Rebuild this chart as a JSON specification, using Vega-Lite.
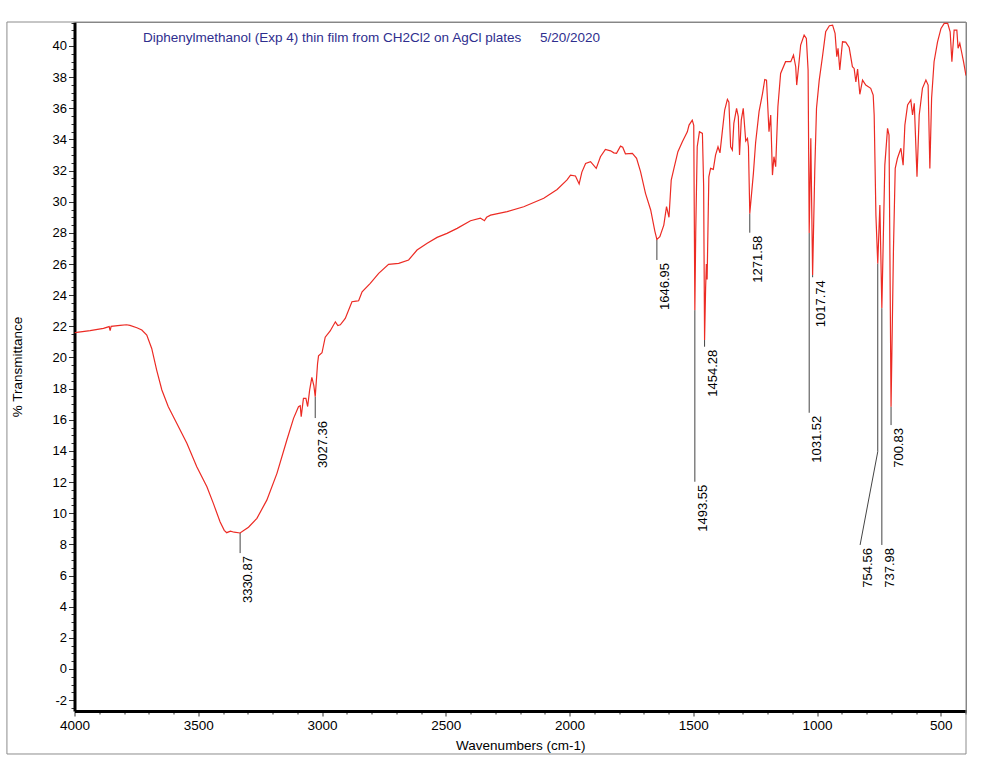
{
  "$schema": "https://vega.github.io/schema/vega-lite/v6.json",
  "width": 891.5,
  "height": 689,
  "autosize": {"type": "none"},
  "padding": {"left": 74.5, "top": 22, "right": 18, "bottom": 53},
  "background": "white",
  "config": {
    "view": {"stroke": "#808080", "strokeWidth": 1},
    "font": "Liberation Sans",
    "axis": {
      "labelFont": "Liberation Sans",
      "titleFont": "Liberation Sans",
      "labelColor": "#000",
      "titleColor": "#000",
      "titleFontWeight": "normal",
      "grid": false,
      "domainColor": "#000",
      "domainWidth": 3,
      "tickColor": "#333",
      "tickWidth": 1
    }
  },
  "title": {
    "text": "Diphenylmethanol (Exp 4) thin film from CH2Cl2 on AgCl plates\u00a0\u00a0\u00a0\u00a0\u00a05/20/2020",
    "anchor": "start",
    "frame": "group",
    "orient": "top",
    "offset": -39,
    "dx": 68.5,
    "fontSize": 13.5,
    "fontWeight": "normal",
    "color": "#2e2e8e",
    "font": "Liberation Sans",
    "baseline": "alphabetic"
  },
  "datasets": {
    "spectrum": [
      {"x": 4000, "y": 21.6}, {"x": 3991, "y": 21.61}, {"x": 3937, "y": 21.72}, {"x": 3883, "y": 21.87},
      {"x": 3860, "y": 21.98}, {"x": 3856, "y": 21.72}, {"x": 3852, "y": 22.0}, {"x": 3816, "y": 22.06},
      {"x": 3790, "y": 22.1}, {"x": 3776, "y": 22.06}, {"x": 3748, "y": 21.91}, {"x": 3728, "y": 21.76},
      {"x": 3708, "y": 21.44}, {"x": 3688, "y": 20.58}, {"x": 3668, "y": 19.19}, {"x": 3647, "y": 17.91},
      {"x": 3621, "y": 16.84}, {"x": 3587, "y": 15.77}, {"x": 3546, "y": 14.49}, {"x": 3506, "y": 12.98},
      {"x": 3465, "y": 11.7}, {"x": 3439, "y": 10.63}, {"x": 3412, "y": 9.45}, {"x": 3395, "y": 8.9},
      {"x": 3385, "y": 8.75}, {"x": 3370, "y": 8.85}, {"x": 3355, "y": 8.78}, {"x": 3330.87, "y": 8.73},
      {"x": 3315, "y": 8.9}, {"x": 3297, "y": 9.1}, {"x": 3263, "y": 9.67}, {"x": 3223, "y": 10.84},
      {"x": 3182, "y": 12.56}, {"x": 3142, "y": 14.7}, {"x": 3115, "y": 16.09}, {"x": 3095, "y": 16.84},
      {"x": 3088, "y": 16.9}, {"x": 3084, "y": 16.2}, {"x": 3075, "y": 17.37}, {"x": 3065, "y": 17.37},
      {"x": 3058, "y": 16.85}, {"x": 3050, "y": 17.9}, {"x": 3041, "y": 18.72}, {"x": 3033, "y": 18.2},
      {"x": 3027.36, "y": 17.48}, {"x": 3018, "y": 19.6}, {"x": 3014, "y": 20.1}, {"x": 3000, "y": 20.3},
      {"x": 2987, "y": 21.3}, {"x": 2967, "y": 21.7}, {"x": 2946, "y": 22.29}, {"x": 2936, "y": 22.05},
      {"x": 2926, "y": 22.1}, {"x": 2906, "y": 22.51}, {"x": 2879, "y": 23.58}, {"x": 2862, "y": 23.62},
      {"x": 2852, "y": 23.64}, {"x": 2838, "y": 24.22}, {"x": 2805, "y": 24.76}, {"x": 2771, "y": 25.4},
      {"x": 2731, "y": 25.98}, {"x": 2690, "y": 26.04}, {"x": 2650, "y": 26.26}, {"x": 2616, "y": 26.9},
      {"x": 2575, "y": 27.33}, {"x": 2535, "y": 27.71}, {"x": 2495, "y": 27.97}, {"x": 2454, "y": 28.29},
      {"x": 2400, "y": 28.78}, {"x": 2360, "y": 28.95}, {"x": 2350, "y": 28.85}, {"x": 2344, "y": 28.78},
      {"x": 2335, "y": 29.0}, {"x": 2319, "y": 29.14}, {"x": 2252, "y": 29.36}, {"x": 2185, "y": 29.68},
      {"x": 2104, "y": 30.22}, {"x": 2050, "y": 30.79}, {"x": 2010, "y": 31.4}, {"x": 1996, "y": 31.71},
      {"x": 1976, "y": 31.65}, {"x": 1961, "y": 31.14}, {"x": 1950, "y": 31.9}, {"x": 1935, "y": 32.46},
      {"x": 1915, "y": 32.57}, {"x": 1892, "y": 32.14}, {"x": 1875, "y": 32.89}, {"x": 1855, "y": 33.36},
      {"x": 1834, "y": 33.27}, {"x": 1821, "y": 33.14}, {"x": 1810, "y": 33.11}, {"x": 1794, "y": 33.57},
      {"x": 1785, "y": 33.5}, {"x": 1774, "y": 33.08}, {"x": 1746, "y": 33.11}, {"x": 1729, "y": 32.79},
      {"x": 1713, "y": 31.93}, {"x": 1693, "y": 30.54}, {"x": 1672, "y": 29.47}, {"x": 1655, "y": 28.1},
      {"x": 1646.95, "y": 27.58}, {"x": 1635, "y": 27.75}, {"x": 1619, "y": 28.5}, {"x": 1608, "y": 29.68},
      {"x": 1598, "y": 29.0}, {"x": 1589, "y": 31.39}, {"x": 1578, "y": 32.14}, {"x": 1562, "y": 33.21},
      {"x": 1544, "y": 33.85}, {"x": 1524, "y": 34.49}, {"x": 1517, "y": 34.92}, {"x": 1504, "y": 35.24},
      {"x": 1498, "y": 34.9}, {"x": 1493.55, "y": 23.04}, {"x": 1490, "y": 28.0}, {"x": 1484, "y": 33.53},
      {"x": 1475, "y": 34.49}, {"x": 1463, "y": 34.39}, {"x": 1458, "y": 31.0}, {"x": 1454.28, "y": 21.12},
      {"x": 1450, "y": 24.5}, {"x": 1447, "y": 26.0}, {"x": 1444, "y": 25.0}, {"x": 1437, "y": 31.6},
      {"x": 1430, "y": 32.14}, {"x": 1419, "y": 32.08}, {"x": 1410, "y": 32.99}, {"x": 1400, "y": 33.53},
      {"x": 1392, "y": 33.14}, {"x": 1382, "y": 34.6}, {"x": 1373, "y": 35.89}, {"x": 1362, "y": 36.57},
      {"x": 1356, "y": 36.4}, {"x": 1349, "y": 33.53}, {"x": 1342, "y": 33.32}, {"x": 1336, "y": 35.03},
      {"x": 1325, "y": 36.0}, {"x": 1318, "y": 35.46}, {"x": 1313, "y": 33.0}, {"x": 1306, "y": 35.24},
      {"x": 1298, "y": 36.0}, {"x": 1288, "y": 33.9}, {"x": 1281, "y": 34.07}, {"x": 1277, "y": 33.53},
      {"x": 1271.58, "y": 29.25}, {"x": 1257, "y": 31.82}, {"x": 1248, "y": 33.8}, {"x": 1234, "y": 35.8},
      {"x": 1220, "y": 36.96}, {"x": 1211, "y": 37.85}, {"x": 1204, "y": 37.81}, {"x": 1194, "y": 34.49},
      {"x": 1187, "y": 35.56}, {"x": 1180, "y": 31.71}, {"x": 1174, "y": 32.89}, {"x": 1167, "y": 32.25},
      {"x": 1158, "y": 36.1}, {"x": 1147, "y": 38.24}, {"x": 1127, "y": 38.99}, {"x": 1106, "y": 38.99},
      {"x": 1095, "y": 39.42}, {"x": 1086, "y": 38.67}, {"x": 1082, "y": 37.49}, {"x": 1073, "y": 38.89},
      {"x": 1066, "y": 40.06}, {"x": 1052, "y": 40.7}, {"x": 1043, "y": 40.49}, {"x": 1036, "y": 38.46},
      {"x": 1031.52, "y": 27.99}, {"x": 1025, "y": 34.07}, {"x": 1017.74, "y": 25.29}, {"x": 1009, "y": 32.03},
      {"x": 1002, "y": 36.0}, {"x": 991, "y": 37.81}, {"x": 978, "y": 39.31}, {"x": 965, "y": 40.91},
      {"x": 950, "y": 41.3}, {"x": 937, "y": 41.34}, {"x": 927, "y": 40.81}, {"x": 920, "y": 39.31},
      {"x": 915, "y": 39.85}, {"x": 908, "y": 38.46}, {"x": 897, "y": 40.27}, {"x": 884, "y": 40.25},
      {"x": 870, "y": 39.9}, {"x": 857, "y": 38.67}, {"x": 850, "y": 38.56}, {"x": 843, "y": 37.7},
      {"x": 836, "y": 38.52}, {"x": 827, "y": 36.9}, {"x": 816, "y": 37.81}, {"x": 803, "y": 37.49},
      {"x": 783, "y": 37.28}, {"x": 773, "y": 36.85}, {"x": 769, "y": 35.57}, {"x": 762, "y": 29.14},
      {"x": 754.56, "y": 26.04}, {"x": 746, "y": 29.79}, {"x": 737.98, "y": 23.17}, {"x": 726, "y": 32.35},
      {"x": 715, "y": 34.71}, {"x": 709, "y": 34.28}, {"x": 700.83, "y": 16.84}, {"x": 691, "y": 27.01},
      {"x": 684, "y": 32.14}, {"x": 675, "y": 32.79}, {"x": 661, "y": 33.43}, {"x": 652, "y": 32.35},
      {"x": 645, "y": 34.92}, {"x": 634, "y": 36.21}, {"x": 621, "y": 36.53}, {"x": 614, "y": 35.57},
      {"x": 607, "y": 36.32}, {"x": 596, "y": 31.6}, {"x": 587, "y": 35.57}, {"x": 574, "y": 37.28},
      {"x": 560, "y": 37.81}, {"x": 551, "y": 37.49}, {"x": 544, "y": 32.14}, {"x": 537, "y": 36.64},
      {"x": 527, "y": 38.99}, {"x": 513, "y": 40.27}, {"x": 499, "y": 41.13}, {"x": 486, "y": 41.45},
      {"x": 472, "y": 41.45}, {"x": 462, "y": 40.91}, {"x": 455, "y": 38.99}, {"x": 446, "y": 41.02},
      {"x": 435, "y": 41.02}, {"x": 430, "y": 39.85}, {"x": 423, "y": 40.17}, {"x": 416, "y": 39.63},
      {"x": 408, "y": 38.99}, {"x": 398, "y": 38.1}
    ],
    "leaders": [
      {"x": 3330.87, "y": 8.73, "x2": 3330.87, "y2": 7.44},
      {"x": 3027.36, "y": 17.48, "x2": 3027.36, "y2": 16.11},
      {"x": 1646.95, "y": 27.58, "x2": 1646.95, "y2": 26.26},
      {"x": 1493.55, "y": 23.04, "x2": 1493.55, "y2": 12.02},
      {"x": 1454.28, "y": 21.12, "x2": 1454.28, "y2": 20.69},
      {"x": 1271.58, "y": 29.25, "x2": 1271.58, "y2": 28.01},
      {"x": 1031.52, "y": 27.99, "x2": 1031.52, "y2": 16.45},
      {"x": 1017.74, "y": 25.29, "x2": 1017.74, "y2": 25.15},
      {"x": 754.56, "y": 26.04, "x2": 754.56, "y2": 13.95},
      {"x": 754.56, "y": 13.95, "x2": 825.9, "y2": 7.96},
      {"x": 737.98, "y": 23.17, "x2": 737.98, "y2": 7.96},
      {"x": 700.83, "y": 16.84, "x2": 700.83, "y2": 15.66}
    ],
    "labels": [
      {"x": 3330.87, "y": 7.44, "label": "3330.87"},
      {"x": 3027.36, "y": 16.11, "label": "3027.36"},
      {"x": 1646.95, "y": 26.26, "label": "1646.95"},
      {"x": 1493.55, "y": 12.02, "label": "1493.55"},
      {"x": 1454.28, "y": 20.69, "label": "1454.28"},
      {"x": 1271.58, "y": 28.01, "label": "1271.58"},
      {"x": 1031.52, "y": 16.45, "label": "1031.52"},
      {"x": 1017.74, "y": 25.15, "label": "1017.74"},
      {"x": 825.9, "y": 7.96, "label": "754.56"},
      {"x": 737.98, "y": 7.96, "label": "737.98"},
      {"x": 700.83, "y": 15.66, "label": "700.83"}
    ]
  },
  "encoding": {
    "x": {
      "field": "x",
      "type": "quantitative",
      "scale": {"domain": [398, 4000], "reverse": true, "nice": false, "zero": false},
      "axis": {
        "title": "Wavenumbers (cm-1)",
        "values": [4000, 3900, 3800, 3700, 3600, 3500, 3400, 3300, 3200, 3100, 3000, 2900, 2800, 2700, 2600, 2500, 2400, 2300, 2200, 2100, 2000, 1900, 1800, 1700, 1600, 1500, 1400, 1300, 1200, 1100, 1000, 900, 800, 700, 600, 500, 400],
        "labelExpr": "datum.value % 500 == 0 ? '' + datum.value : ''",
        "tickSize": {"condition": {"test": "datum.value % 500 == 0", "value": 5}, "value": 3},
        "labelFontSize": 13.5,
        "labelPadding": 2,
        "labelFlush": false,
        "labelOverlap": false,
        "titleFontSize": 13.5,
        "titleY": 34,
        "titleBaseline": "middle"
      }
    },
    "y": {
      "field": "y",
      "type": "quantitative",
      "scale": {"domain": [-2.7, 41.54], "nice": false, "zero": false},
      "axis": {
        "title": "% Transmittance",
        "values": [-2.5, -2, -1.5, -1, -0.5, 0, 0.5, 1, 1.5, 2, 2.5, 3, 3.5, 4, 4.5, 5, 5.5, 6, 6.5, 7, 7.5, 8, 8.5, 9, 9.5, 10, 10.5, 11, 11.5, 12, 12.5, 13, 13.5, 14, 14.5, 15, 15.5, 16, 16.5, 17, 17.5, 18, 18.5, 19, 19.5, 20, 20.5, 21, 21.5, 22, 22.5, 23, 23.5, 24, 24.5, 25, 25.5, 26, 26.5, 27, 27.5, 28, 28.5, 29, 29.5, 30, 30.5, 31, 31.5, 32, 32.5, 33, 33.5, 34, 34.5, 35, 35.5, 36, 36.5, 37, 37.5, 38, 38.5, 39, 39.5, 40, 40.5, 41, 41.5],
        "labelExpr": "datum.value % 2 == 0 ? '' + datum.value : ''",
        "tickSize": {"condition": {"test": "datum.value % 2 == 0", "value": 6}, "value": 3.5},
        "labelFontSize": 13,
        "labelPadding": 2,
        "labelFlush": false,
        "labelOverlap": false,
        "titleFontSize": 13.5,
        "titleX": -57,
        "titleY": 344.5,
        "titleAngle": 270,
        "titleBaseline": "middle",
        "titleAlign": "center"
      }
    }
  },
  "layer": [
    {
      "data": {"values": [{"fx": 4273, "fx2": 398, "fy": -5.46, "fy2": 41.54}]},
      "mark": {"type": "rect", "fill": "transparent", "stroke": "#8c8c8c", "strokeWidth": 1, "clip": false},
      "encoding": {
        "x": {"field": "fx", "type": "quantitative"},
        "x2": {"field": "fx2"},
        "y": {"field": "fy", "type": "quantitative"},
        "y2": {"field": "fy2"}
      }
    },
    {
      "data": {"name": "leaders"},
      "mark": {"type": "rule", "color": "#444", "strokeWidth": 1},
      "encoding": {"x2": {"field": "x2"}, "y2": {"field": "y2"}}
    },
    {
      "data": {"name": "spectrum"},
      "mark": {"type": "line", "color": "#ec2b24", "strokeWidth": 1.2, "clip": true}
    },
    {
      "data": {"name": "labels"},
      "mark": {"type": "text", "angle": 270, "align": "right", "baseline": "middle", "dx": -3, "dy": 8, "fontSize": 13, "font": "Liberation Sans", "color": "#000"},
      "encoding": {"text": {"field": "label"}}
    }
  ]
}
